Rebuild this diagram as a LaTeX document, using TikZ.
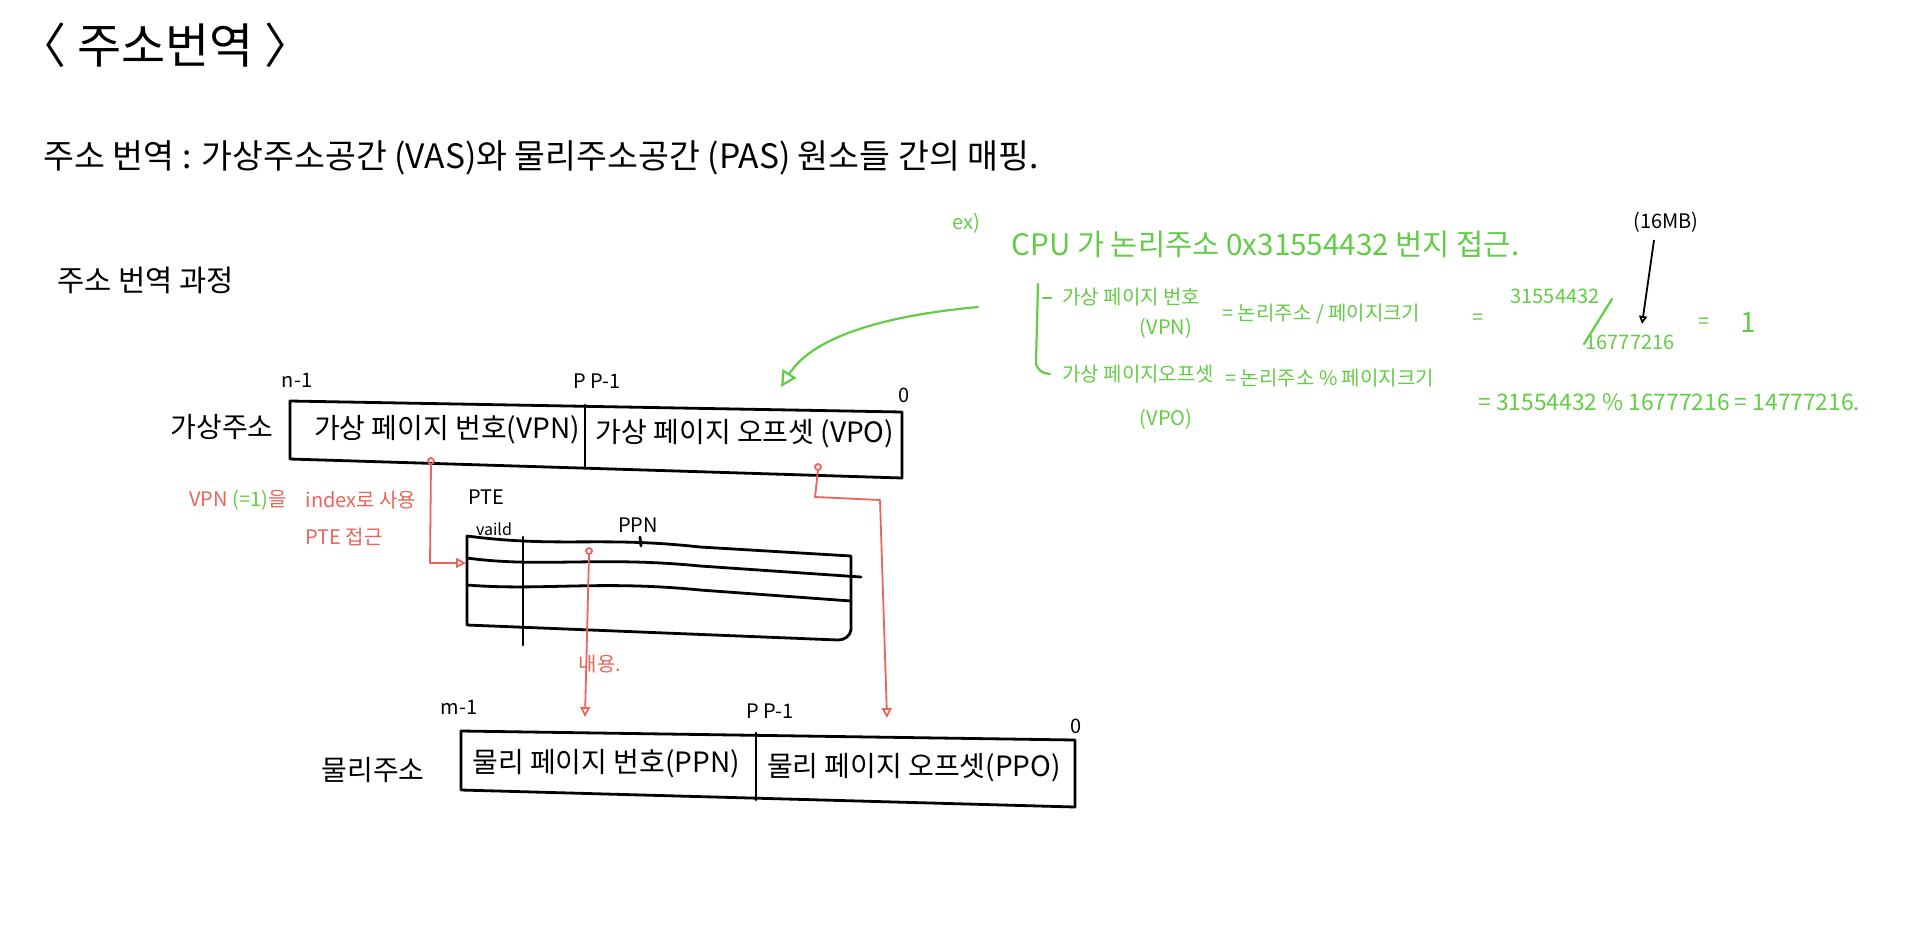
\documentclass[tikz,border=0pt]{standalone}
\usepackage{fontspec}
\setmainfont{Noto Sans CJK KR}
\usetikzlibrary{arrows.meta}
\definecolor{hgreen}{RGB}{98,204,68}
\definecolor{hred}{RGB}{234,100,90}
\begin{document}
\begin{tikzpicture}[x=0.5pt,y=-0.5pt,
  lbl/.style={inner sep=0pt},
  fbig/.style={font=\fontsize{24}{28}\selectfont},
  fmain/.style={font=\fontsize{16.8}{20}\selectfont},
  fbox/.style={font=\fontsize{14}{17}\selectfont},
  fsmall/.style={font=\fontsize{10}{12}\selectfont},
  ftiny/.style={font=\fontsize{8}{10}\selectfont},
  fgreen/.style={text=hgreen, font=\fontsize{10}{12}\selectfont},
  fred/.style={text=hred, font=\fontsize{10}{12}\selectfont},
  boxline/.style={draw=black, line width=1.4pt, line join=round, line cap=round},
  redline/.style={draw=hred, line width=0.9pt, line join=round},
  redarrow/.style={redline, -{Triangle[open, length=5pt, width=5pt]}},
  greenline/.style={draw=hgreen, line width=1.1pt, line cap=round, line join=round},
  greenarrow/.style={greenline, -{Triangle[open, length=8pt, width=8pt]}},
  blackarrow/.style={draw=black, line width=0.9pt, -{Triangle[open, length=4pt, width=4pt]}}]
\useasboundingbox (0,0) rectangle (1911,948);

% headings
\node[lbl, fbig, anchor=west] (title) at (18,45) {〈 주소번역 〉};
\node[lbl, fmain, anchor=west] (def) at (43,158) {주소 번역 : 가상주소공간 (VAS)와 물리주소공간 (PAS) 원소들 간의 매핑.};
\node[lbl, font=\fontsize{14.8}{18}\selectfont, anchor=west] (proc) at (57,280) {주소 번역 과정};

% virtual address
\node[lbl, fbox] (valbl) at (222,427) {가상주소};
\coordinate (vTL) at (290,401);
\coordinate (vTR) at (902,412);
\coordinate (vBR) at (902,478);
\coordinate (vBL) at (290,459);
\draw[boxline] (vTL) -- (vTR) -- (vBR) -- (vBL) -- cycle;
\coordinate (vDivT) at (585,405);
\coordinate (vDivB) at (585,467);
\draw[boxline] (vDivT) -- (vDivB);
\node[lbl, fbox] (vpn) at (447,430) {가상 페이지 번호(VPN)};
\node[lbl, fbox] (vpo) at (745,434) {가상 페이지 오프셋 (VPO)};
\node[lbl, fsmall] (vbitn) at (297,380) {n-1};
\node[lbl, fsmall] (vbitp) at (597,381) {P P-1};
\node[lbl, fsmall] (vbit0) at (904,395) {0};

% PTE table
\node[lbl, fsmall] (ptelbl) at (486,497) {PTE};
\node[lbl, ftiny] (valid) at (494,529) {vaild};
\node[lbl, fsmall] (ppnlbl) at (638,525) {PPN};
\draw[boxline] (640,537) -- (641,546);
\coordinate (tTL) at (467,536);
\coordinate (tTR) at (851,556);
\coordinate (tBL) at (467,625);
\draw[boxline] (tTL) .. controls (560,548) and (600,536) .. (700,547) -- (tTR) -- (851,630) to[out=-100,in=0] (838,640) -- (tBL) -- cycle;
\draw[boxline] (467,558) .. controls (540,568) and (600,556) .. (700,566) -- (861,577);
\draw[boxline] (467,585) .. controls (540,591) and (600,580) .. (700,590) -- (851,601);
\draw[boxline] (523,537) -- (523,645);

% physical address
\node[lbl, fbox] (palbl) at (373,770) {물리주소};
\coordinate (pTL) at (461,731);
\coordinate (pTR) at (1075,740);
\coordinate (pBR) at (1075,807);
\coordinate (pBL) at (461,790);
\draw[boxline] (pTL) -- (pTR) -- (pBR) -- (pBL) -- cycle;
\draw[boxline] (756,733) -- (756,800);
\node[lbl, fbox] (ppn) at (606,764) {물리 페이지 번호(PPN)};
\node[lbl, fbox] (ppo) at (914,768) {물리 페이지 오프셋(PPO)};
\node[lbl, fsmall] (pbitm) at (459,707) {m-1};
\node[lbl, fsmall] (pbitp) at (770,711) {P P-1};
\node[lbl, fsmall] (pbit0) at (1076,726) {0};

% red connectors
\coordinate (vpnDot) at (431,461);
\coordinate (pteIn) at (466,563);
\draw[redline] (vpnDot) circle (3);
\draw[redarrow] (431,464) -- (430,563) -- (pteIn);
\coordinate (ppnDot) at (589,551);
\coordinate (ppnOut) at (585,717);
\draw[redline] (ppnDot) circle (3);
\draw[redarrow] (589,554) -- (ppnOut);
\coordinate (vpoDot) at (818,467);
\coordinate (ppoIn) at (887,718);
\draw[redline] (vpoDot) circle (3);
\draw[redarrow] (818,470) -- (815,497) -- (880,500) -- (ppoIn);
\node[lbl, fred, anchor=west] (redA) at (189,500) {VPN \textcolor{hgreen}{(=1)}을};
\node[lbl, fred] (redB) at (361,500) {index로 사용};
\node[lbl, fred] (redC) at (344,537) {PTE 접근};
\node[lbl, fred] (redD) at (600,664) {내용.};

% green example
\node[lbl, fgreen] (ex) at (966,223) {ex)};
\node[lbl, text=hgreen, font=\fontsize{14.8}{18}\selectfont, anchor=west] (cpu) at (1011,244) {CPU 가 논리주소 0x31554432 번지 접근.};
\node[lbl, fsmall] (mb) at (1666,222) {(16MB)};
\coordinate (mbTip) at (1642,324);
\draw[blackarrow] (1654,240) -- (mbTip);
\draw[greenline] (1038,284) -- (1036,362) to[out=-90,in=180] (1050,374);
\draw[greenline] (1043,298) -- (1051,298);
\node[lbl, fgreen, anchor=west] (vpnEq) at (1062,297) {가상 페이지 번호};
\node[lbl, fgreen] (vpnAb) at (1166,328) {(VPN)};
\node[lbl, fgreen, anchor=west] (vpnF) at (1222,314) {= 논리주소 / 페이지크기};
\node[lbl, fgreen] (eq1) at (1478,319) {=};
\node[lbl, fgreen] (num1) at (1555,296) {31554432};
\draw[greenline] (1612,299) -- (1584,344);
\node[lbl, fgreen] (den1) at (1630,342) {16777216};
\node[lbl, fgreen] (eq2) at (1704,323) {=};
\node[lbl, text=hgreen, font=\fontsize{14}{16}\selectfont] (one) at (1748,323) {1};
\node[lbl, fgreen, anchor=west] (vpoEq) at (1062,374) {가상 페이지오프셋};
\node[lbl, fgreen] (vpoAb) at (1166,419) {(VPO)};
\node[lbl, fgreen, anchor=west] (vpoF) at (1225,378) {= 논리주소 \% 페이지크기};
\node[lbl, text=hgreen, font=\fontsize{11.4}{14}\selectfont, anchor=west] (vpoR) at (1478,402) {= 31554432 \% 16777216 = 14777216.};
\coordinate (gStart) at (978,307);
\coordinate (gEnd) at (781,387);
\draw[greenarrow] (gStart) .. controls (880,316) and (812,338) .. (gEnd);
\end{tikzpicture}
\end{document}
